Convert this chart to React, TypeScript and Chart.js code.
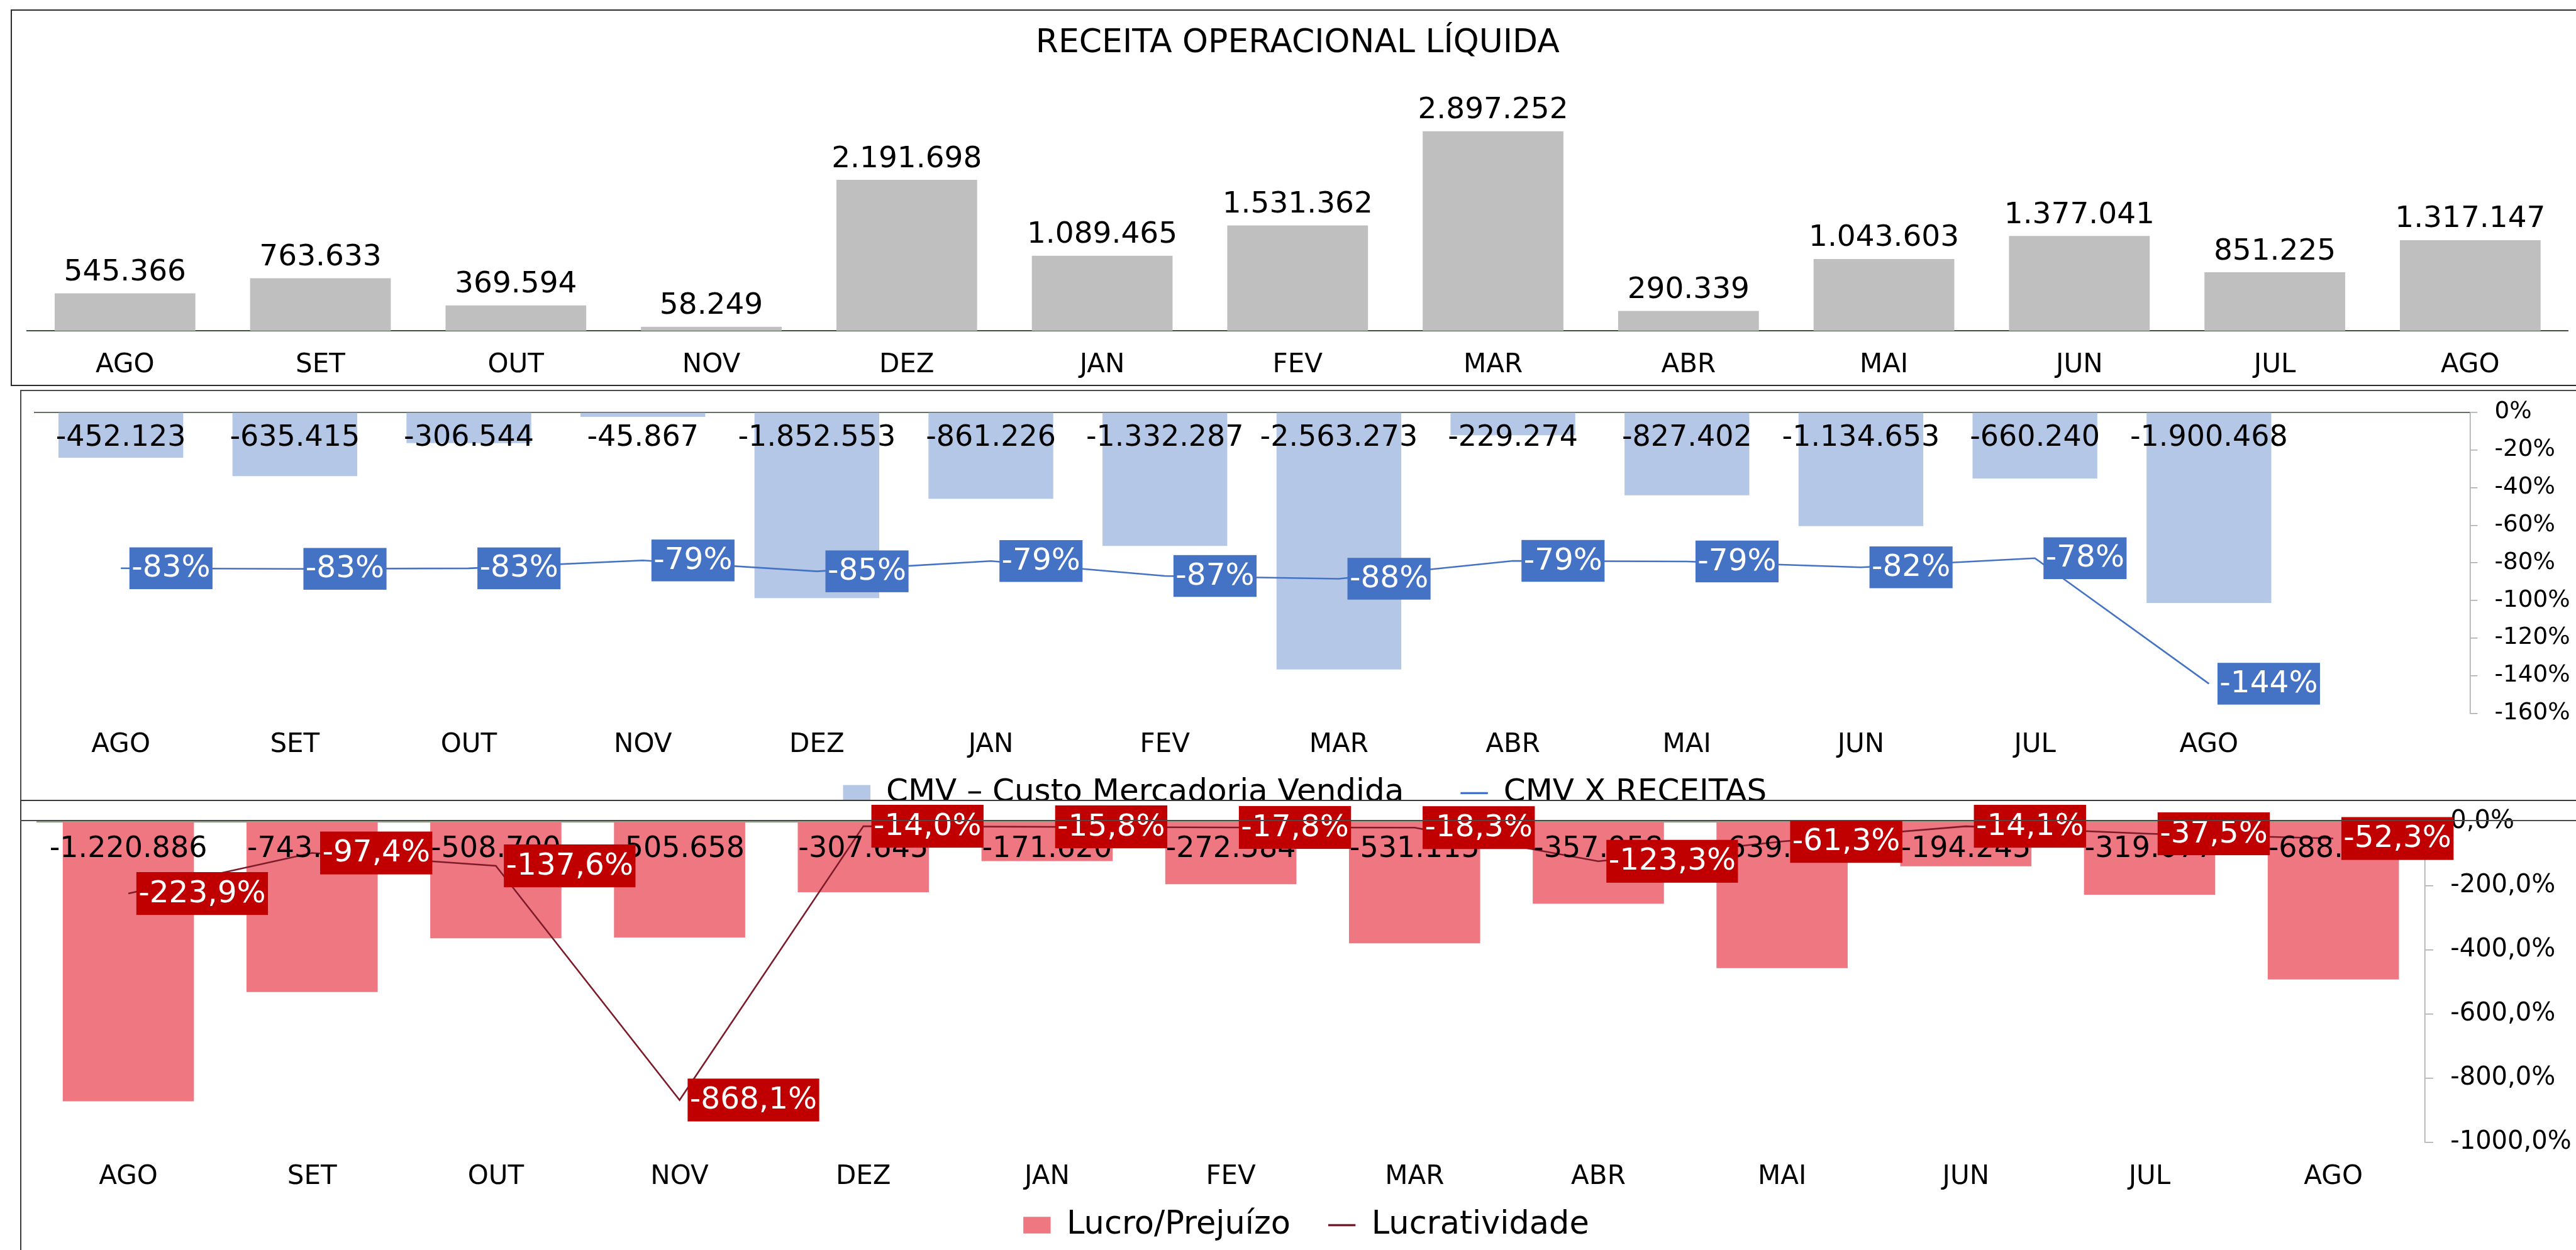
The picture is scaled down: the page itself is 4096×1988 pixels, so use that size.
import React, { useEffect, useRef } from 'react';
import { Chart, registerables } from 'chart.js';

Chart.register(...registerables);

const S = 4096 / 4809;
const r = (v: number) => v * S;
const FONT = '"DejaVu Sans", sans-serif';

// ---------- data ----------
const MONTHS = ['AGO', 'SET', 'OUT', 'NOV', 'DEZ', 'JAN', 'FEV', 'MAR', 'ABR', 'MAI', 'JUN', 'JUL', 'AGO'];
const RECEITA = [545366, 763633, 369594, 58249, 2191698, 1089465, 1531362, 2897252, 290339, 1043603, 1377041, 851225, 1317147];
const CMV = [-452123, -635415, -306544, -45867, -1852553, -861226, -1332287, -2563273, -229274, -827402, -1134653, -660240, -1900468];
const CMV_PCT = [-82.9, -83.21, -82.94, -78.74, -84.53, -79.05, -87.0, -88.47, -78.97, -79.28, -82.4, -77.56, -144.29];
const LUCRO = [-1220886, -743778, -508700, -505658, -307645, -171620, -272584, -531115, -357958, -639730, -194245, -319077, -688870];
const LUCRO_PCT = [-223.9, -97.4, -137.6, -868.1, -14.0, -15.8, -17.8, -18.3, -123.3, -61.3, -14.1, -37.5, -52.3];
const CMV_TICKS_STEP = 20;
const LUCRO_TICKS_STEP = 200;

const fmtInt = (v: number) => Math.round(v).toString().replace(/\B(?=(\d{3})+(?!\d))/g, '.');
const fmtPct0 = (v: number) => Math.round(v) + '%';
const fmtPct1 = (v: number) => v.toFixed(1).replace('.', ',') + '%';

function drawBarLabels(chart: any, dsIndex: number, font: number, mode: 'end' | 'base', offset: number) {
  const ctx = chart.ctx;
  const meta = chart.getDatasetMeta(dsIndex);
  const data = chart.data.datasets[dsIndex].data as (number | null)[];
  ctx.save();
  ctx.font = `${font}px ${FONT}`;
  ctx.fillStyle = '#000';
  ctx.textAlign = 'center';
  meta.data.forEach((el: any, j: number) => {
    const v = data[j];
    if (v == null) return;
    const p = el.getProps(['x', 'y', 'base'], true);
    if (mode === 'end') {
      ctx.textBaseline = 'alphabetic';
      ctx.fillText(fmtInt(v), p.x, p.y - offset);
    } else {
      ctx.textBaseline = 'middle';
      ctx.fillText(fmtInt(v), p.x, p.base + offset);
    }
  });
  ctx.restore();
}

function drawLineLabels(
  chart: any,
  dsIndex: number,
  fmt: (v: number) => string,
  font: number,
  bg: string,
  boxH: number,
  padX: number,
  dx: number
) {
  const ctx = chart.ctx;
  const meta = chart.getDatasetMeta(dsIndex);
  const data = chart.data.datasets[dsIndex].data as (number | null)[];
  ctx.save();
  ctx.font = `${font}px ${FONT}`;
  meta.data.forEach((el: any, j: number) => {
    const v = data[j];
    if (v == null) return;
    const p = el.getProps(['x', 'y'], true);
    const t = fmt(v);
    const w = ctx.measureText(t).width + padX * 2;
    const left = p.x + dx;
    const top = p.y - boxH / 2;
    ctx.fillStyle = bg;
    ctx.fillRect(left, top, w, boxH);
    ctx.fillStyle = '#fff';
    ctx.textAlign = 'center';
    ctx.textBaseline = 'middle';
    ctx.fillText(t, left + w / 2, p.y + 1);
  });
  ctx.restore();
}

function legendLabels(chart: any) {
  return chart.data.datasets.map((ds: any, i: number) => {
    const isLine = ds.type === 'line';
    return {
      text: ds.label,
      fillStyle: isLine ? ds.borderColor : ds.backgroundColor,
      strokeStyle: isLine ? ds.borderColor : ds.backgroundColor,
      lineWidth: isLine ? r(4) : 0,
      pointStyle: isLine ? 'line' : 'rect',
      hidden: false,
      datasetIndex: i,
      fontColor: '#000',
    };
  });
}

function useChart(ref: React.RefObject<HTMLCanvasElement>, make: () => any) {
  useEffect(() => {
    if (!ref.current) return;
    const chart = new Chart(ref.current, make());
    return () => chart.destroy();
  }, []);
}

const TOP = { left: 17, top: 15, w: 4079, h: 599 };
const MID = { left: 32, top: 620, w: 4064, h: 696 };
const BOT = { left: 32, top: 1272, w: 4064, h: 716 };
const OFF = 20; // canvas starts this much above its box

function TopChart() {
  const ref = useRef<HTMLCanvasElement>(null);
  useChart(ref, () => ({
    type: 'bar',
    data: {
      labels: MONTHS,
      datasets: [
        {
          label: 'Receita Operacional Líquida',
          data: RECEITA,
          backgroundColor: '#BFBFBF',
          categoryPercentage: 1,
          barPercentage: 0.72,
        },
      ],
    },
    options: {
      responsive: false,
      animation: false,
      devicePixelRatio: 1,
      layout: { padding: { left: r(31), right: r(15), top: 0, bottom: 0 } },
      plugins: {
        legend: { display: false },
        tooltip: { enabled: false },
        title: {
          display: true,
          text: 'RECEITA OPERACIONAL LÍQUIDA',
          color: '#000',
          font: { family: FONT, size: 52, weight: 'normal', lineHeight: 1.2 },
          padding: { top: 23.3, bottom: 42.1 },
        },
      },
      scales: {
        x: {
          offset: true,
          grid: { display: false },
          border: { display: true, color: '#3F4F3F', width: 2 },
          ticks: { color: '#000', font: { family: FONT, size: 42 }, padding: 21.5, maxRotation: 0, autoSkip: false },
          afterFit: (s: any) => {
            s.height = 87.8;
          },
        },
        y: { display: false, min: 0, max: 3500000 },
      },
    },
    plugins: [
      {
        id: 'topLabels',
        afterDatasetsDraw: (chart: any) => drawBarLabels(chart, 0, 47, 'end', r(24)),
      },
    ],
  }));
  return <canvas ref={ref} width={TOP.w} height={TOP.h} style={{ position: 'absolute', left: 0, top: 0 }} />;
}

function MidChart() {
  const ref = useRef<HTMLCanvasElement>(null);
  useChart(ref, () => ({
    type: 'bar',
    data: {
      labels: [...MONTHS, ''],
      datasets: [
        {
          type: 'line',
          label: 'CMV X RECEITAS',
          data: [...CMV_PCT, null],
          borderColor: '#4472C4',
          backgroundColor: '#4472C4',
          borderWidth: r(3),
          pointRadius: 0,
          tension: 0,
          yAxisID: 'y1',
          order: 0,
        },
        {
          type: 'bar',
          label: 'CMV – Custo Mercadoria Vendida',
          data: [...CMV, null],
          backgroundColor: '#B4C7E7',
          categoryPercentage: 1,
          barPercentage: 0.717,
          yAxisID: 'y',
          order: 1,
        },
      ],
    },
    options: {
      responsive: false,
      animation: false,
      devicePixelRatio: 1,
      layout: { padding: { left: r(25.6), right: 0, top: r(42) + OFF, bottom: 19.6 } },
      plugins: {
        tooltip: { enabled: false },
        legend: {
          display: true,
          position: 'bottom',
          labels: {
            usePointStyle: true,
            pointStyleWidth: r(51),
            boxHeight: r(30),
            padding: 90,
            color: '#000',
            font: { family: FONT, size: 50 },
            generateLabels: (chart: any) => {
              const items = legendLabels(chart);
              return [items[1], items[0]];
            },
          },
        },
      },
      scales: {
        x: {
          offset: true,
          grid: { display: false },
          border: { display: false },
          ticks: { color: '#000', font: { family: FONT, size: 42 }, mirror: true, padding: -75.5, maxRotation: 0, autoSkip: false },
          afterFit: (s: any) => {
            s.height = 12;
          },
        },
        y: {
          position: 'left',
          min: -3000000,
          max: 0,
          ticks: { display: false },
          border: { display: false },
          grid: {
            drawTicks: false,
            lineWidth: 1.7,
            color: (c: any) => (c.tick && c.tick.value === 0 ? '#4E5E4E' : 'rgba(0,0,0,0)'),
          },
          afterFit: (s: any) => {
            s.width = 0;
          },
        },
        y1: {
          position: 'right',
          min: -160,
          max: 0,
          ticks: {
            stepSize: CMV_TICKS_STEP,
            callback: (v: any) => fmtPct0(Number(v)),
            color: '#000',
            font: { family: FONT, size: 37.3 },
            padding: r(32),
          },
          grid: { drawOnChartArea: false, tickLength: r(14), color: '#A6A6A6', lineWidth: 1.5 },
          border: { display: true, color: '#A6A6A6', width: 1.5 },
          afterFit: (s: any) => {
            s.width = r(198);
          },
        },
      },
    },
    plugins: [
      {
        id: 'midLabels',
        afterDatasetsDraw: (chart: any) => {
          drawBarLabels(chart, 1, 46, 'base', r(47));
          drawLineLabels(chart, 0, fmtPct0, 48.5, '#4472C4', r(78), r(4), r(16));
        },
      },
    ],
  }));
  return (
    <canvas ref={ref} width={MID.w} height={MID.h + OFF} style={{ position: 'absolute', left: 0, top: -OFF }} />
  );
}

function BotChart() {
  const ref = useRef<HTMLCanvasElement>(null);
  useChart(ref, () => ({
    type: 'bar',
    data: {
      labels: MONTHS,
      datasets: [
        {
          type: 'line',
          label: 'Lucratividade',
          data: LUCRO_PCT,
          borderColor: '#7E1B2A',
          backgroundColor: '#7E1B2A',
          borderWidth: r(3),
          pointRadius: 0,
          tension: 0,
          yAxisID: 'y1',
          order: 0,
        },
        {
          type: 'bar',
          label: 'Lucro/Prejuízo',
          data: LUCRO,
          backgroundColor: '#EF7781',
          categoryPercentage: 1,
          barPercentage: 0.714,
          yAxisID: 'y',
          order: 1,
        },
      ],
    },
    options: {
      responsive: false,
      animation: false,
      devicePixelRatio: 1,
      layout: { padding: { left: r(30.5), right: 0, top: r(41) + OFF, bottom: 4 } },
      plugins: {
        tooltip: { enabled: false },
        legend: {
          display: true,
          position: 'bottom',
          labels: {
            usePointStyle: true,
            pointStyleWidth: r(51),
            boxHeight: r(31),
            padding: 60,
            color: '#000',
            font: { family: FONT, size: 51 },
            generateLabels: (chart: any) => {
              const items = legendLabels(chart);
              return [items[1], items[0]];
            },
          },
        },
      },
      scales: {
        x: {
          offset: true,
          grid: { display: false },
          border: { display: false },
          ticks: { color: '#000', font: { family: FONT, size: 42 }, mirror: true, padding: -80.1, maxRotation: 0, autoSkip: false },
          afterFit: (s: any) => {
            s.height = 46.3;
          },
        },
        y: {
          position: 'left',
          min: -1400000,
          max: 0,
          ticks: { display: false },
          border: { display: false },
          grid: {
            drawTicks: false,
            lineWidth: 2.2,
            color: (c: any) => (c.tick && c.tick.value === 0 ? '#98A38E' : 'rgba(0,0,0,0)'),
          },
          afterFit: (s: any) => {
            s.width = 0;
          },
        },
        y1: {
          position: 'right',
          min: -1000,
          max: 0,
          ticks: {
            stepSize: LUCRO_TICKS_STEP,
            callback: (v: any) => fmtPct1(Number(v)),
            color: '#000',
            font: { family: FONT, size: 40 },
            padding: r(32),
          },
          grid: { drawOnChartArea: false, tickLength: r(15), color: '#A6A6A6', lineWidth: 1.5 },
          border: { display: true, color: '#A6A6A6', width: 1.5 },
          afterFit: (s: any) => {
            s.width = r(281.5);
          },
        },
      },
    },
    plugins: [
      {
        id: 'botLabels',
        afterDatasetsDraw: (chart: any) => {
          drawBarLabels(chart, 1, 46, 'base', r(51));
          drawLineLabels(chart, 0, fmtPct1, 48.5, '#C00000', r(80), r(4), r(15));
        },
      },
    ],
  }));
  return (
    <canvas ref={ref} width={BOT.w} height={BOT.h + OFF} style={{ position: 'absolute', left: 0, top: -OFF }} />
  );
}

const boxStyle = (b: { left: number; top: number; w: number; h: number }, z: number): React.CSSProperties => ({
  position: 'absolute',
  left: b.left,
  top: b.top,
  width: b.w + 40,
  height: b.h,
  background: '#fff',
  zIndex: z,
});

const borderStyle = (h: number, col: string): React.CSSProperties => ({
  position: 'absolute',
  left: 0,
  top: 0,
  right: 0,
  height: h,
  borderTop: `2px solid ${col}`,
  borderLeft: `2px solid ${col}`,
  borderBottom: `2px solid ${col}`,
  boxSizing: 'border-box',
  pointerEvents: 'none',
});

export default function App() {
  return (
    <div style={{ position: 'absolute', left: 0, top: 0, width: 4096, height: 1988, overflow: 'hidden', background: '#fff' }}>
      <div style={boxStyle(TOP, 1)}>
        <TopChart />
        <div style={borderStyle(TOP.h, '#2B2B2B')} />
      </div>
      <div style={boxStyle(MID, 2)}>
        <MidChart />
        <div style={borderStyle(MID.h + 20, '#4A4A4A')} />
      </div>
      <div style={{ ...boxStyle(BOT, 3), height: BOT.h + 10 }}>
        <BotChart />
        <div style={borderStyle(BOT.h + 40, '#3A3A3A')} />
        <div
          style={{
            position: 'absolute',
            left: 0,
            right: 0,
            top: Math.round(r(1531)) - BOT.top,
            height: 0,
            borderTop: '2px solid #4A4A4A',
          }}
        />
      </div>
    </div>
  );
}
